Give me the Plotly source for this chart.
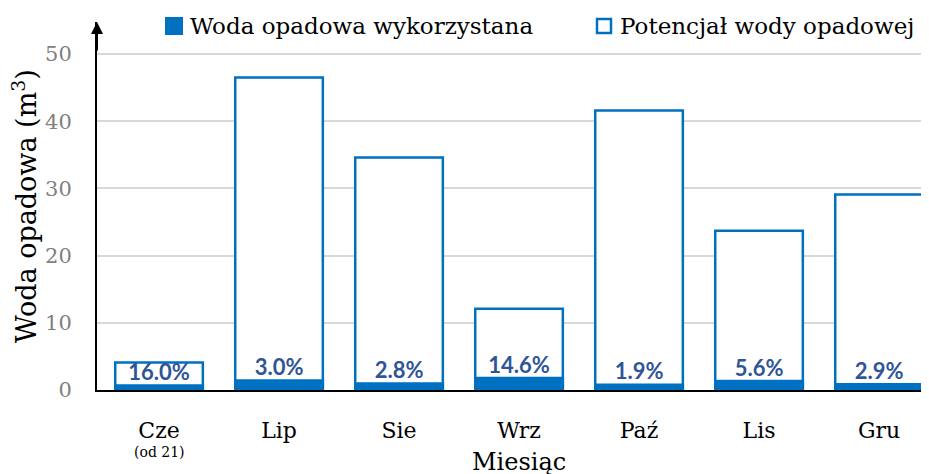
import plotly.graph_objects as go

months = ["Cze", "Lip", "Sie", "Wrz", "Paź", "Lis", "Gru"]
month_note = "(od 21)"
potential = [4.1, 46.5, 34.6, 12.1, 41.6, 23.7, 29.1]
used = [0.66, 1.40, 0.97, 1.77, 0.79, 1.33, 0.84]
pct_labels = ["16.0%", "3.0%", "2.8%", "14.6%", "1.9%", "5.6%", "2.9%"]
y_ticks = [0, 10, 20, 30, 40, 50]
name_used = "Woda opadowa wykorzystana"
name_pot = "Potencjał wody opadowej"

BLUE = "#0070C0"
SERIF = "DejaVu Serif"

OFF = 8  # page body margin
W, H = 929 - OFF, 474 - OFF
L, R, T, B = 89, 4, 14, 84
PW, PH = W - L - R, H - T - B


def px(x):
    return (x - OFF - L) / PW


def py(y):
    return (H - B - (y - OFF)) / PH


fig = go.Figure()
fig.add_trace(go.Bar(
    x=months, y=potential, name=name_pot,
    marker=dict(color="white", line=dict(color=BLUE, width=2.5)),
    showlegend=False,
))
fig.add_trace(go.Bar(
    x=months, y=used, name=name_used,
    marker=dict(color=BLUE, line=dict(color=BLUE, width=2.5)),
    showlegend=False,
))
fig.add_trace(go.Scatter(
    x=months, y=used, mode="text", text=pct_labels, textposition="top center",
    textfont=dict(family="Lato", size=22, color="#2F5597", weight="bold"),
    showlegend=False, hoverinfo="skip", cliponaxis=False,
))

fig.update_layout(
    width=W, height=H,
    margin=dict(l=L, r=R, t=T, b=B, autoexpand=False),
    barmode="overlay", bargap=0.27,
    plot_bgcolor="white", paper_bgcolor="white",
    font=dict(family=SERIF, color="black"),
    showlegend=False,
)
fig.update_xaxes(
    range=[-0.517, 6.383], tickfont=dict(family=SERIF, size=22, color="black"),
    showline=True, linecolor="black", linewidth=2, ticks="", ticklabelstandoff=20,
    showgrid=False, automargin=False,
)
fig.update_yaxes(
    range=[0, PH / 6.72], tickvals=y_ticks,
    tickfont=dict(family=SERIF, size=21, color="#808080"),
    showline=True, linecolor="black", linewidth=2,
    gridcolor="#D9D9D9", gridwidth=1.5, zeroline=False,
    ticks="", ticklabelstandoff=19, automargin=False,
)
# axis arrow
fig.add_annotation(x=0, y=1, xref="paper", yref="paper", text="", showarrow=True,
                   ax=0, ay=30, axref="pixel", ayref="pixel",
                   arrowhead=2, arrowsize=1.2, arrowwidth=2, arrowcolor="black")
# sub-label under first month
fig.add_annotation(x=months[0], y=py(452), xref="x", yref="paper", text=month_note,
                   showarrow=False, font=dict(family=SERIF, size=14, color="black"),
                   yanchor="middle")
# axis titles
fig.add_annotation(x=months[3], y=py(462), xref="x", yref="paper", text="Miesiąc",
                   showarrow=False, font=dict(family=SERIF, size=24, color="black"),
                   yanchor="middle")
fig.add_annotation(x=px(24), y=py(206), xref="paper", yref="paper",
                   text="Woda opadowa (m<sup>3</sup>)", textangle=-90,
                   showarrow=False, font=dict(family=SERIF, size=27, color="black"),
                   xanchor="center", yanchor="middle")
# legend
fig.add_shape(type="rect", xref="paper", yref="paper",
              x0=px(165), x1=px(183), y0=py(35), y1=py(17),
              fillcolor=BLUE, line=dict(width=0))
fig.add_annotation(x=px(188), y=py(26), xref="paper", yref="paper", text=name_used,
                   showarrow=False, xanchor="left", yanchor="middle",
                   font=dict(family=SERIF, size=23, color="black"))
fig.add_shape(type="rect", xref="paper", yref="paper",
              x0=px(597), x1=px(611), y0=py(33), y1=py(19),
              fillcolor="white", line=dict(color=BLUE, width=2.5))
fig.add_annotation(x=px(618), y=py(26), xref="paper", yref="paper", text=name_pot,
                   showarrow=False, xanchor="left", yanchor="middle",
                   font=dict(family=SERIF, size=23, color="black"))

fig.write_html("out.html")
